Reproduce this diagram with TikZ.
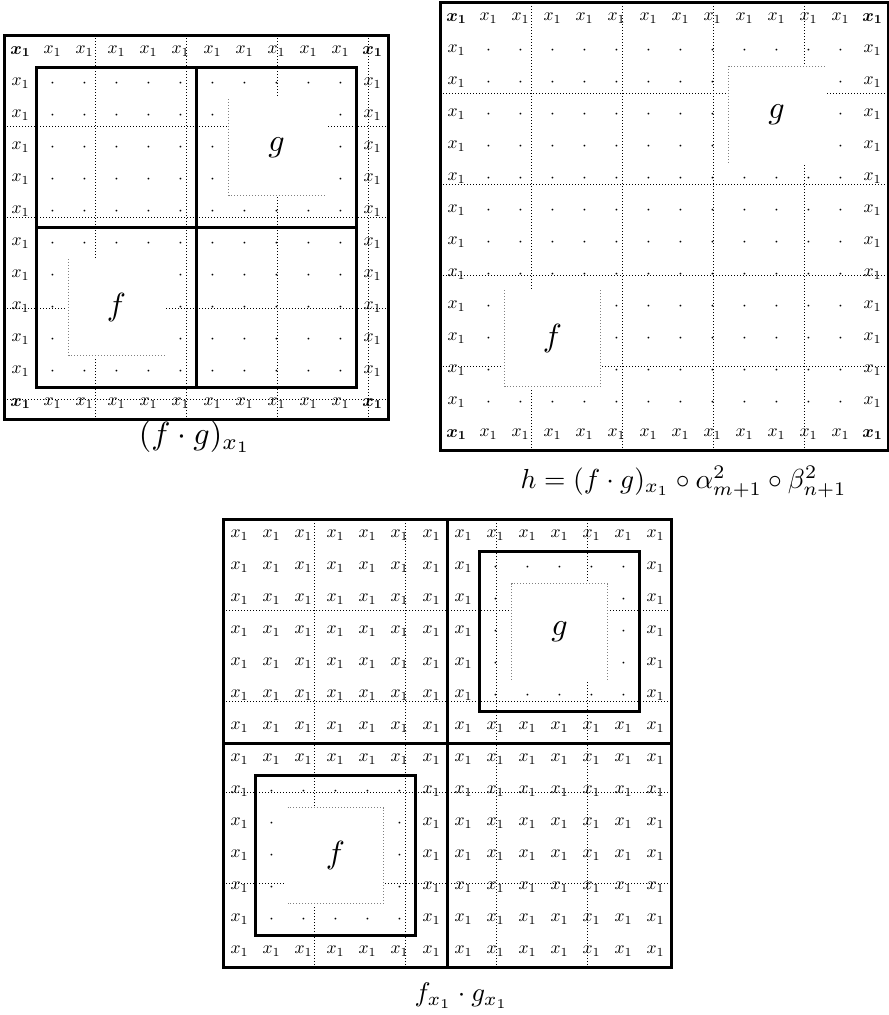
\documentclass[tikz,border=0pt]{standalone}
\usepackage{amsmath}
\usepackage{bm}
\tikzset{
  cellgrid/.style={line width=0.3125pt, dash pattern=on 0.3125pt off 0.625pt, dash phase=0.15625pt, draw=black},
  frameline/.style={line width=0.7pt},
  blockedge/.style={line width=0.3125pt, dash pattern=on 0.3125pt off 0.625pt, dash phase=0.15625pt, draw=black!50},
  blank/.style={fill=white},
  lab/.style={inner sep=0pt, scale=0.55, transform shape},
  blk/.style={inner sep=0pt},
  captext/.style={inner sep=0pt}
}
\newcommand{\xone}{$x_1$}
\newcommand{\bxone}{$\bm{x}_{\bm{1}}$}
\newcommand{\cdt}{$\cdot$}
\begin{document}
\begin{tikzpicture}[x=10pt,y=10pt]
\useasboundingbox (0,0) rectangle (27.78125,-31.71875);
% ---------------- grid 1 : (f.g)_{x1}
\begin{scope}[shift={(0.140625,-1.109375)}]
  \draw[cellgrid] (0,0) grid (12,-12);
  \fill[blank] (6.95,-1.95) rectangle (10.05,-5.05);
  \fill[blank] (1.95,-6.95) rectangle (5.05,-10.05);
  \draw[blockedge] (7,-2) -- (7,-5) -- (10,-5);
  \draw[blockedge] (2,-7) -- (2,-10) -- (5,-10);
  \foreach \r in {0,...,11}{
    \foreach \c in {0,...,11}{
      \pgfmathtruncatemacro\isborder{(\r==0)||(\r==11)||(\c==0)||(\c==11)}
      \pgfmathtruncatemacro\iscorner{((\r==0)||(\r==11))&&((\c==0)||(\c==11))}
      \pgfmathtruncatemacro\inblk{((\c>=7)&&(\c<=9)&&(\r>=2)&&(\r<=4))||((\c>=2)&&(\c<=4)&&(\r>=7)&&(\r<=9))}
      \ifnum\iscorner=1
        \node[lab] (A-\r-\c) at (\c+0.5,-\r-0.5) {\bxone};
      \else\ifnum\isborder=1
        \node[lab] (A-\r-\c) at (\c+0.5,-\r-0.5) {\xone};
      \else\ifnum\inblk=0
        \node[lab] (A-\r-\c) at (\c+0.5,-\r-0.5) {\cdt};
      \fi\fi\fi
    }
  }
  \node[blk] (Ag) at (8.5,-3.5) {$g$};
  \node[blk] (Af) at (3.5,-8.5) {$f$};
  \draw[frameline] (0,0) rectangle (12,-12);
  \draw[frameline] (1,-1) rectangle (11,-11);
  \draw[frameline] (6,-1) -- (6,-11);
  \draw[frameline] (1,-6) -- (11,-6);
\end{scope}
% ---------------- grid 2 : h
\begin{scope}[shift={(13.765625,-0.078125)}]
  \draw[cellgrid] (0,0) grid (14,-14);
  \fill[blank] (8.95,-1.95) rectangle (12.05,-5.05);
  \fill[blank] (1.95,-8.95) rectangle (5.05,-12.05);
  \draw[blockedge] (12,-2) -- (9,-2) -- (9,-5);
  \draw[blockedge] (2,-9) -- (2,-12) -- (5,-12) -- (5,-9);
  \foreach \r in {0,...,13}{
    \foreach \c in {0,...,13}{
      \pgfmathtruncatemacro\isborder{(\r==0)||(\r==13)||(\c==0)||(\c==13)}
      \pgfmathtruncatemacro\iscorner{((\r==0)||(\r==13))&&((\c==0)||(\c==13))}
      \pgfmathtruncatemacro\inblk{((\c>=9)&&(\c<=11)&&(\r>=2)&&(\r<=4))||((\c>=2)&&(\c<=4)&&(\r>=9)&&(\r<=11))}
      \ifnum\iscorner=1
        \node[lab] (B-\r-\c) at (\c+0.5,-\r-0.5) {\bxone};
      \else\ifnum\isborder=1
        \node[lab] (B-\r-\c) at (\c+0.5,-\r-0.5) {\xone};
      \else\ifnum\inblk=0
        \node[lab] (B-\r-\c) at (\c+0.5,-\r-0.5) {\cdt};
      \fi\fi\fi
    }
  }
  \node[blk] (Bg) at (10.5,-3.5) {$g$};
  \node[blk] (Bf) at (3.5,-10.5) {$f$};
  \draw[frameline] (0,0) rectangle (14,-14);
\end{scope}
% ---------------- grid 3 : f_{x1} . g_{x1}
\begin{scope}[shift={(6.984375,-16.234375)}]
  \draw[cellgrid] (0,0) grid (14,-14);
  \fill[blank] (8.95,-1.95) rectangle (12.05,-5.05);
  \fill[blank] (1.95,-8.95) rectangle (5.05,-12.05);
  \draw[blockedge] (9,-5) -- (9,-2) -- (12,-2) -- (12,-5);
  \draw[blockedge] (2,-9) -- (5,-9) -- (5,-12) -- (2,-12);
  \foreach \r in {0,...,13}{
    \foreach \c in {0,...,13}{
      \pgfmathtruncatemacro\insq{((\c>=8)&&(\c<=12)&&(\r>=1)&&(\r<=5))||((\c>=1)&&(\c<=5)&&(\r>=8)&&(\r<=12))}
      \pgfmathtruncatemacro\inblk{((\c>=9)&&(\c<=11)&&(\r>=2)&&(\r<=4))||((\c>=2)&&(\c<=4)&&(\r>=9)&&(\r<=11))}
      \ifnum\insq=0
        \node[lab] (C-\r-\c) at (\c+0.5,-\r-0.5) {\xone};
      \else\ifnum\inblk=0
        \node[lab] (C-\r-\c) at (\c+0.5,-\r-0.5) {\cdt};
      \fi\fi
    }
  }
  \node[blk] (Cg) at (10.5,-3.5) {$g$};
  \node[blk] (Cf) at (3.5,-10.5) {$f$};
  \draw[frameline] (0,0) rectangle (14,-14);
  \draw[frameline] (7,0) -- (7,-14);
  \draw[frameline] (0,-7) -- (14,-7);
  \draw[frameline] (8,-1) rectangle (13,-6);
  \draw[frameline] (1,-8) rectangle (6,-13);
\end{scope}
% ---------------- captions
\node[captext] (capA) at (6.09,-13.656) {$(f\cdot g)_{x_1}$};
\node[captext, scale=0.86, transform shape] (capB) at (21.36,-15.05) {$h=(f\cdot g)_{x_1}\circ\alpha^2_{m+1}\circ\beta^2_{n+1}$};
\node[captext, scale=0.84, transform shape] (capC) at (14.42,-31.11) {$f_{x_1}\cdot g_{x_1}$};
\end{tikzpicture}
\end{document}
